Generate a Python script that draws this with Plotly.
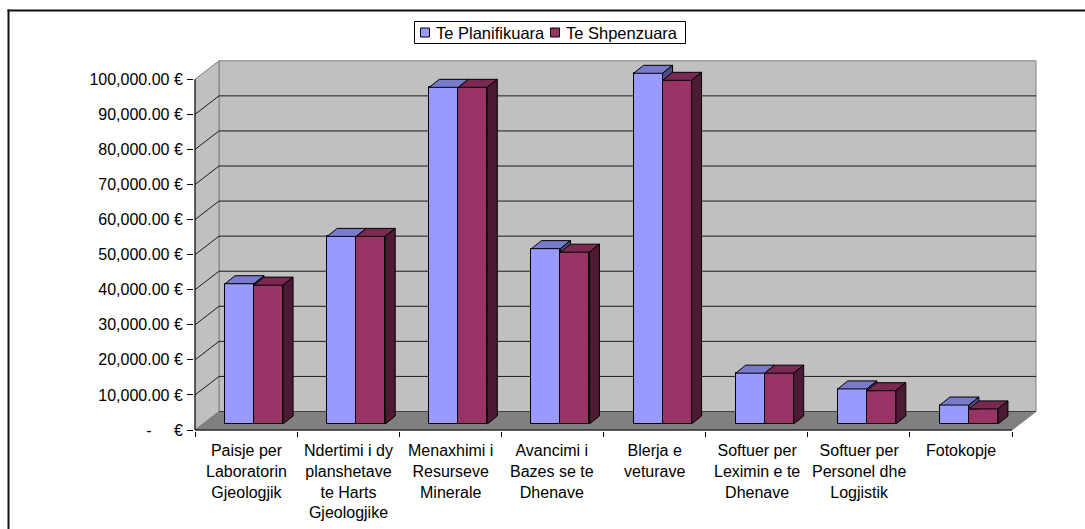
import plotly.graph_objects as go

# ---------------- data ----------------
categories = [
    "Paisje per<br>Laboratorin<br>Gjeologjik",
    "Ndertimi i dy<br>planshetave<br>te Harts<br>Gjeologjike",
    "Menaxhimi i<br>Resurseve<br>Minerale",
    "Avancimi i<br>Bazes se te<br>Dhenave",
    "Blerja e<br>veturave",
    "Softuer per<br>Leximin e te<br>Dhenave",
    "Softuer per<br>Personel dhe<br>Logjistik",
    "Fotokopje",
]
series_names = ["Te Planifikuara", "Te Shpenzuara"]
planned = [40000, 53500, 96000, 50000, 100000, 14500, 10000, 5400]
spent = [39600, 53500, 96000, 49000, 98000, 14500, 9500, 4300]
ytick_vals = [0, 10000, 20000, 30000, 40000, 50000, 60000, 70000, 80000, 90000, 100000]
ytick_text = ["-\u00a0\u00a0\u00a0\u00a0\u00a0€", "10,000.00 €", "20,000.00 €", "30,000.00 €",
              "40,000.00 €", "50,000.00 €", "60,000.00 €", "70,000.00 €", "80,000.00 €",
              "90,000.00 €", "100,000.00 €"]

# ---------------- styling / geometry ----------------
W, H = 1085, 529
FONT = "Liberation Sans, Arial, sans-serif"
front_colors = ["#9999FF", "#993366"]
top_colors = ["#7A7ACC", "#7A2952"]
side_colors = ["#4D4D80", "#4D1A33"]

ncat = len(categories)
ymax = ytick_vals[-1]
# pixel geometry of the front plane
PX0, PXN = 195.0, 1012.0
PY0, PYM = 430.0, 79.3
ux = (PXN - PX0) / ncat
uy = (PY0 - PYM) / ymax


def cx(px):
    return px / ux


def cy(px):
    return px / uy


DX, DY = cx(24), cy(18.5)     # wall depth
FX, FY = cx(8), cy(6)         # bar front offset
BX, BY = cx(10), cy(8)        # bar depth
BW = cx(29)                   # bar width

plot_left, plot_right, plot_top, plot_bottom = PX0 - 1, 1045.0, 50.0, PY0 + 1
L = plot_left
R = W - plot_right
T = plot_top
B = H - plot_bottom
pw, ph = W - L - R, H - T - B
xr = [-cx(1), (plot_right - PX0) / ux]
yr = [-cy(1), (PY0 - plot_top) / uy]


def px2paper(px):
    return (px - plot_left) / pw


def py2paper(py):
    return (plot_bottom - py) / ph


fig = go.Figure()

series = [planned, spent]
for s, vals in enumerate(series):
    fig.add_trace(go.Bar(
        x=[i + 0.5 + FX + (s - 0.5) * BW for i in range(ncat)],
        y=vals, base=FY, width=BW, name=series_names[s],
        marker=dict(color=front_colors[s], line=dict(color="black", width=1)),
        hoverinfo="skip", showlegend=False,
    ))

# 3-D top and side faces (painter order: first series then second)
for s, vals in enumerate(series):
    tx, ty, sx, sy = [], [], [], []
    for i, v in enumerate(vals):
        x0 = i + 0.5 + FX + (s - 1) * BW
        x1 = x0 + BW
        t = FY + v
        tx += [x0, x1, x1 + BX, x0 + BX, x0, None]
        ty += [t, t, t + BY, t + BY, t, None]
        if s == 0:
            if v <= series[1][i]:
                continue
            lo = FY + series[1][i]
            lo_r = max(lo, FY + BY)
        else:
            lo = FY
            lo_r = FY + BY
        sx += [x1, x1 + BX, x1 + BX, x1, x1, None]
        sy += [lo, lo_r, t + BY, t, lo, None]
    fig.add_trace(go.Scatter(x=tx, y=ty, mode="lines", fill="toself",
                             fillcolor=top_colors[s], line=dict(color="black", width=1),
                             showlegend=False, hoverinfo="skip"))
    if sx:
        fig.add_trace(go.Scatter(x=sx, y=sy, mode="lines", fill="toself",
                                 fillcolor=side_colors[s], line=dict(color="black", width=1),
                                 showlegend=False, hoverinfo="skip"))

shapes = []


def path(pts):
    return "M " + " L ".join(f"{x},{y}" for x, y in pts) + " Z"


# back wall, side wall, floor
shapes.append(dict(type="path", xref="x", yref="y", layer="below",
                   path=path([(DX, DY), (ncat + DX, DY), (ncat + DX, ymax + DY), (DX, ymax + DY)]),
                   fillcolor="#C0C0C0", line=dict(color="#808080", width=1)))
shapes.append(dict(type="path", xref="x", yref="y", layer="below",
                   path=path([(0, 0), (DX, DY), (DX, ymax + DY), (0, ymax)]),
                   fillcolor="#C0C0C0", line=dict(color="#808080", width=1)))
shapes.append(dict(type="path", xref="x", yref="y", layer="below",
                   path=path([(0, 0), (ncat, 0), (ncat + DX, DY), (DX, DY)]),
                   fillcolor="#808080", line=dict(color="#808080", width=1)))
shapes.append(dict(type="line", xref="x", yref="y", layer="below",
                   x0=DX, y0=DY, x1=ncat + DX, y1=DY, line=dict(color="#404040", width=1)))
# gridlines
for v in ytick_vals[1:-1]:
    shapes.append(dict(type="line", xref="x", yref="y", layer="below",
                       x0=DX, y0=v + DY, x1=ncat + DX, y1=v + DY,
                       line=dict(color="#1a1a1a", width=1)))
    shapes.append(dict(type="line", xref="x", yref="y", layer="below",
                       x0=0, y0=v, x1=DX, y1=v + DY, line=dict(color="#1a1a1a", width=1)))
# axis lines
shapes.append(dict(type="line", xref="x", yref="y", layer="below",
                   x0=0, y0=0, x1=0, y1=ymax, line=dict(color="black", width=1)))
shapes.append(dict(type="line", xref="x", yref="y", layer="below",
                   x0=0, y0=0, x1=ncat, y1=0, line=dict(color="black", width=1)))

# outer chart-area border: only its top and left edges are inside the picture
shapes.append(dict(type="line", xref="paper", yref="paper", layer="above",
                   x0=px2paper(7.5), x1=px2paper(W + 40), y0=py2paper(10.5), y1=py2paper(10.5),
                   line=dict(color="#111111", width=2)))
shapes.append(dict(type="line", xref="paper", yref="paper", layer="above",
                   x0=px2paper(8.5), x1=px2paper(8.5), y0=py2paper(9.5), y1=py2paper(H + 40),
                   line=dict(color="#111111", width=2)))

# legend (box, swatches, labels)
shapes.append(dict(type="rect", xref="paper", yref="paper", layer="above",
                   x0=px2paper(414.5), x1=px2paper(685.5), y0=py2paper(43.5), y1=py2paper(21.5),
                   line=dict(color="black", width=1), fillcolor="white"))
legend_sw_x = [420.5, 550.5]
legend_txt_x = [435, 565]
annotations = []
for s in range(len(series_names)):
    shapes.append(dict(type="rect", xref="paper", yref="paper", layer="above",
                       x0=px2paper(legend_sw_x[s]), x1=px2paper(legend_sw_x[s] + 9),
                       y0=py2paper(37), y1=py2paper(28),
                       line=dict(color="black", width=1), fillcolor=front_colors[s]))
    annotations.append(dict(x=px2paper(legend_txt_x[s]), y=py2paper(32.5), xref="paper", yref="paper",
                            text=series_names[s], showarrow=False, xanchor="left", yanchor="middle",
                            borderpad=0, font=dict(family=FONT, size=16.5, color="black")))

for i, c in enumerate(categories):
    annotations.append(dict(x=i + 0.5, y=0, xref="x", yref="y", text=c, showarrow=False,
                            xanchor="center", yanchor="top", yshift=-10, align="center",
                            font=dict(family=FONT, size=16, color="black")))

fig.update_layout(
    width=W, height=H,
    margin=dict(l=L, r=R, t=T, b=B, pad=0, autoexpand=False),
    paper_bgcolor="white", plot_bgcolor="white",
    barmode="overlay", bargap=0,
    font=dict(family=FONT, size=16, color="black"),
    shapes=shapes, annotations=annotations,
    showlegend=False,
    xaxis=dict(range=xr, showgrid=False, zeroline=False, showline=False,
               tickmode="array", tickvals=list(range(ncat + 1)), ticktext=[""] * (ncat + 1),
               ticks="outside", ticklen=5, tickcolor="black", tickwidth=1,
               showticklabels=False, fixedrange=True, automargin=False),
    yaxis=dict(range=yr, showgrid=False, zeroline=False, showline=False,
               tickmode="array", tickvals=ytick_vals, ticktext=ytick_text,
               ticks="outside", ticklen=6, tickcolor="black", tickwidth=1,
               ticklabelstandoff=1, automargin=False,
               tickfont=dict(family=FONT, size=16, color="black"), fixedrange=True),
)

fig.write_html(
    "out.html",
    config={"displayModeBar": False},
    post_script="document.body.style.margin='0';document.body.style.overflow='hidden';",
)
